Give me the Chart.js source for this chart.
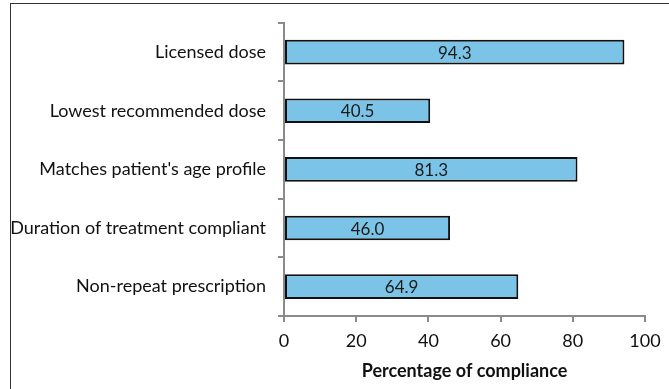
<!DOCTYPE html>
<html>
<head>
<meta charset="utf-8">
<script src="https://cdn.jsdelivr.net/npm/chart.js@4/dist/chart.umd.min.js"></script>
<style>
  html, body { margin: 0; padding: 0; background: #fff; }
  #wrap { position: relative; width: 669px; height: 389px; overflow: hidden; }
  #frame {
    position: absolute; left: 10px; top: 3px; right: -5px; bottom: -5px;
    border-left: 1px solid #333; border-top: 1px solid #333;
  }
  canvas { position: absolute; left: 0; top: 0; }
</style>
</head>
<body>
<div id="wrap">
  <div id="frame"></div>
  <canvas id="chart" width="669" height="389"></canvas>
</div>
<script>
// categories top to bottom, as they appear in the picture
const categories = [
  'Licensed dose',
  'Lowest recommended dose',
  "Matches patient's age profile",
  'Duration of treatment compliant',
  'Non-repeat prescription',
];
const compliance = [94.3, 40.5, 81.3, 46.0, 64.9];
const xTicks = [0, 20, 40, 60, 80, 100];
const xTitle = 'Percentage of compliance';

const FONT = 'Lato, "Open Sans", sans-serif';
const AXIS = '#8a8a8a';

// value labels centred inside each bar
const barLabels = {
  id: 'barLabels',
  afterDatasetsDraw(chart) {
    const ctx = chart.ctx;
    const meta = chart.getDatasetMeta(0);
    ctx.save();
    ctx.font = '17px ' + FONT;
    ctx.fillStyle = '#1a1a1a';
    ctx.textAlign = 'center';
    ctx.textBaseline = 'middle';
    meta.data.forEach((bar, i) => {
      const mid = (bar.x + bar.base) / 2;
      ctx.fillText(compliance[i].toFixed(1), mid, bar.y + 1);
    });
    ctx.restore();
  },
};

new Chart(document.getElementById('chart'), {
  type: 'bar',
  data: {
    labels: categories,
    datasets: [{
      data: compliance,
      backgroundColor: '#7cc4e7',
      borderColor: '#111',
      borderWidth: 2,
      borderSkipped: false,
      categoryPercentage: 1,
      barPercentage: 0.42,
    }],
  },
  options: {
    indexAxis: 'y',
    responsive: false,
    animation: false,
    devicePixelRatio: 1,
    layout: { padding: { top: 18, right: 24, left: 0, bottom: 0 } },
    plugins: { legend: { display: false }, tooltip: { enabled: false } },
    scales: {
      y: {
        grid: { drawOnChartArea: false, drawTicks: true, tickLength: 6, color: AXIS, lineWidth: 2 },
        border: { color: AXIS, width: 2 },
        ticks: { color: '#111', padding: 12, font: { family: FONT, size: 18 } },
        afterFit(scale) { scale.width = 284; },
      },
      x: {
        min: 0,
        max: 100,
        afterBuildTicks(scale) { scale.ticks = xTicks.map((v) => ({ value: v })); },
        grid: { drawOnChartArea: false, drawTicks: true, tickLength: 6, color: AXIS, lineWidth: 2 },
        border: { color: AXIS, width: 2 },
        ticks: { color: '#111', padding: 8, font: { family: FONT, size: 18 } },
        title: {
          display: true,
          text: xTitle,
          color: '#111',
          padding: { top: 4, bottom: 7 },
          font: { family: FONT, size: 18, weight: 'bold' },
        },
        afterFit(scale) { scale.height = 389 - 316; },
      },
    },
  },
  plugins: [barLabels],
});
</script>
</body>
</html>
